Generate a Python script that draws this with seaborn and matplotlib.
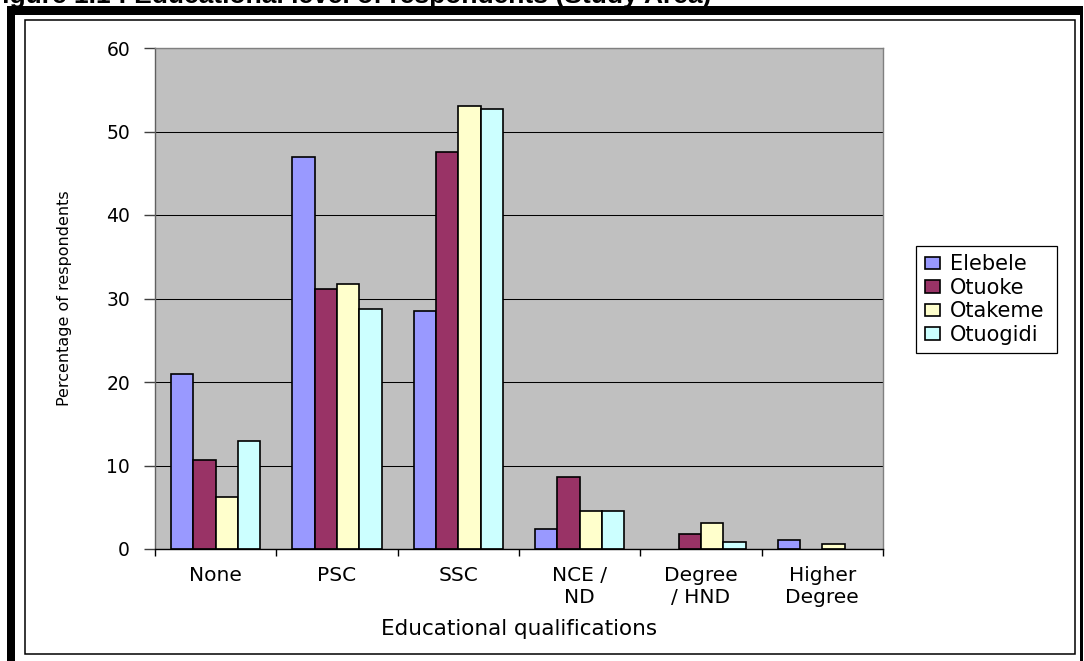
import matplotlib
matplotlib.use("Agg")
import matplotlib.pyplot as plt
from matplotlib.patches import Rectangle, Patch
import pandas as pd
import seaborn as sns

# ---- data -------------------------------------------------------------
qualifications = ["None", "PSC", "SSC", "NCE /\nND", "Degree\n/ HND", "Higher\nDegree"]
towns = ["Elebele", "Otuoke", "Otakeme", "Otuogidi"]
elebele = [21.0, 46.9, 28.5, 2.4, 0.0, 1.1]
otuoke = [10.6, 31.1, 47.5, 8.6, 1.8, 0.0]
otakeme = [6.2, 31.7, 53.1, 4.6, 3.1, 0.6]
otuogidi = [12.9, 28.8, 52.7, 4.5, 0.8, 0.0]
town_colors = ["#9999FF", "#993366", "#FFFFCC", "#CCFFFF"]
y_ticks = [0, 10, 20, 30, 40, 50, 60]

series = {"Elebele": elebele, "Otuoke": otuoke, "Otakeme": otakeme, "Otuogidi": otuogidi}
df = pd.DataFrame(
    [(q, t, v) for t in towns for q, v in zip(qualifications, series[t])],
    columns=["qualification", "town", "percent"],
)

# ---- figure -------------------------------------------------------------
sns.set_style("white")
plt.rcParams["font.family"] = ["DejaVu Sans"]
plt.rcParams["text.color"] = "black"
plt.rcParams["axes.labelcolor"] = "black"
plt.rcParams["xtick.color"] = "black"
plt.rcParams["ytick.color"] = "black"

W, H = 1084, 661
fig = plt.figure(figsize=(W / 100, H / 100), dpi=100)
fig.patch.set_facecolor("white")


def fx(px):
    return px / W


def fy(py):
    return 1 - py / H


# plot area: x 155..883 px, y 48..549 px
ax = fig.add_axes([fx(155), fy(549), fx(883) - fx(155), fy(48) - fy(549)])
ax.set_facecolor("#C0C0C0")

sns.barplot(
    data=df, x="qualification", y="percent", hue="town",
    order=qualifications, hue_order=towns, palette=town_colors,
    width=0.735, saturation=1, errorbar=None,
    edgecolor="black", linewidth=1.2, legend=False, ax=ax,
)
# empty categories show no bar outline
for bar in ax.patches:
    if bar.get_height() == 0:
        bar.set_visible(False)

ax.set_ylim(0, 60)
ax.set_xlim(-0.5, len(qualifications) - 0.5)
ax.set_yticks(y_ticks)
ax.set_axisbelow(True)
ax.yaxis.grid(True, color="black", linewidth=0.75)
ax.xaxis.grid(False)

# category labels at group centres, tick marks at group boundaries
ax.set_xticks(range(len(qualifications)))
ax.set_xticklabels(qualifications, fontsize=14.5, linespacing=1.2)
ax.set_xticks([i - 0.5 for i in range(len(qualifications) + 1)], minor=True)
ax.tick_params(axis="x", which="major", length=0, pad=12, labelcolor="black")
ax.tick_params(axis="x", which="minor", length=5, width=1, color="black",
               direction="out", bottom=True)
ax.tick_params(axis="y", which="major", length=8, width=1, color="#404040",
               direction="out", left=True, pad=10, labelsize=13.5, labelcolor="black")

for side in ("top", "right"):
    ax.spines[side].set_color("#808080")
    ax.spines[side].set_linewidth(1)
ax.spines["left"].set_color("#606060")
ax.spines["left"].set_linewidth(1)
ax.spines["bottom"].set_color("black")
ax.spines["bottom"].set_linewidth(1)

ax.set_xlabel("Educational qualifications", fontsize=15.5, color="black")
ax.set_ylabel("Percentage of respondents", fontsize=11.5, color="black")
ax.xaxis.set_label_coords(0.5, -(629 - 549) / (549 - 48), transform=ax.transAxes)
ax.xaxis.label.set_verticalalignment("center")
ax.yaxis.set_label_coords(-(155 - 65) / (883 - 155), 0.5)
ax.yaxis.label.set_verticalalignment("center")

# legend box at the right of the plot area
handles = [Patch(facecolor=c, edgecolor="black", linewidth=1.2) for c in town_colors]
leg = fig.legend(
    handles, towns, loc="center",
    bbox_to_anchor=(fx(906), fy(355), fx(1067) - fx(906), fy(244) - fy(355)),
    bbox_transform=fig.transFigure, mode="expand",
    frameon=True, fancybox=False, framealpha=1, edgecolor="black",
    fontsize=15, handlelength=0.75, handleheight=0.55, handletextpad=0.45,
    labelspacing=0.17, borderpad=0.4, labelcolor="black",
)
leg.get_frame().set_linewidth(0.9)

# chart frame and page borders
fig.patches.append(Rectangle((fx(25), fy(654)), fx(1075) - fx(25), fy(20) - fy(654),
                             transform=fig.transFigure, fill=False,
                             edgecolor="black", linewidth=1.1, zorder=1))
fig.patches.append(Rectangle((fx(7), fy(14.5)), fx(1081) - fx(7), fy(6) - fy(14.5),
                             transform=fig.transFigure, facecolor="black",
                             edgecolor="none", zorder=3))
fig.patches.append(Rectangle((fx(7), 0), fx(14.5) - fx(7), fy(6),
                             transform=fig.transFigure, facecolor="black",
                             edgecolor="none", zorder=3))
fig.patches.append(Rectangle((fx(1080), 0), fx(1083) - fx(1080), fy(6),
                             transform=fig.transFigure, facecolor="black",
                             edgecolor="none", zorder=3))

fig.text(fx(-14), fy(3.5), "Figure 1.1 : Educational level of respondents (Study Area)",
         fontsize=19, fontweight="bold", family=["Liberation Sans", "DejaVu Sans"],
         ha="left", va="baseline", zorder=2)

fig.savefig("out.png", dpi=100, facecolor="white")
